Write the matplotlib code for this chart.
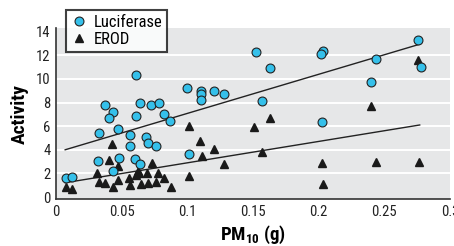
import numpy as np
import matplotlib
matplotlib.use("Agg")
import matplotlib.pyplot as plt

plt.rcParams['font.family'] = ['Roboto Condensed', 'DejaVu Sans']
plt.rcParams['mathtext.fontset'] = 'custom'
plt.rcParams['mathtext.rm'] = 'Roboto Condensed'
plt.rcParams['mathtext.bf'] = 'Roboto Condensed:bold'

# PM10 (g) and luciferase activity
luc_x = [0.0373, 0.0437, 0.0406, 0.047, 0.0607, 0.064, 0.0607, 0.0723, 0.0787, 0.0823,
         0.0868, 0.100, 0.1107, 0.1107, 0.1107, 0.1206, 0.128,
         0.152, 0.163, 0.203, 0.2018, 0.244, 0.2757, 0.278, 0.240, 0.1566, 0.2023,
         0.033, 0.0564, 0.0564, 0.0685, 0.0698, 0.076, 0.0322, 0.048, 0.0437, 0.0604,
         0.064, 0.0074, 0.012, 0.101]
luc_y = [7.8, 7.2, 6.67, 5.8, 10.34, 8.0, 6.9, 7.8, 8.0, 7.0,
         6.4, 9.2, 8.98, 8.7, 8.2, 9.0, 8.7,
         12.3, 10.9, 12.4, 12.1, 11.67, 13.28, 11.0, 9.7, 8.16, 6.36,
         5.45, 5.25, 4.3, 5.1, 4.6, 4.35, 3.05, 3.3, 2.23, 3.2,
         2.8, 1.58, 1.72, 3.64]

# PM10 (g) and EROD activity
erod_x = [0.0074, 0.012, 0.031, 0.033, 0.0373, 0.0406, 0.043, 0.0437, 0.047, 0.0475,
          0.0558, 0.0564, 0.061, 0.0622, 0.063, 0.0645, 0.069, 0.0703, 0.0731, 0.076,
          0.078, 0.0825, 0.0873, 0.101, 0.101, 0.1097, 0.111, 0.1206, 0.128,
          0.151, 0.163, 0.157, 0.2023, 0.2031, 0.240, 0.2755, 0.2437, 0.2767]
erod_y = [0.82, 0.68, 2.06, 1.3, 1.21, 3.14, 4.46, 0.82, 2.63, 1.44,
          1.58, 1.0, 1.86, 2.23, 2.0, 1.1, 2.06, 1.16, 2.9, 1.24,
          2.06, 1.58, 0.87, 6.0, 1.78, 4.75, 3.47, 4.1, 2.8,
          5.9, 6.67, 3.79, 2.85, 1.08, 7.7, 11.58, 3.0, 3.0]

# regression lines (end points)
fit_x = [0.007, 0.277]
luc_fit = [4.0, 12.94]
erod_fit = [1.21, 6.1]

fig = plt.figure(figsize=(4.54, 2.46), dpi=100)
ax = fig.add_axes([0.1233, 0.191, 0.8677, 0.695])
ax.set_facecolor('#e6e7e8')
ax.set_xlim(0, 0.3)
ax.set_ylim(-0.17, 14.31)
ax.set_yticks(range(0, 15, 2))
ax.set_xticks([0, 0.05, 0.1, 0.15, 0.2, 0.25, 0.3])
ax.set_xticklabels(['0', '0.05', '0.1', '0.15', '0.2', '0.25', '0.3'])
for g in range(2, 14, 2):
    ax.axhline(g, color='white', lw=1.4, zorder=0.5)
ax.tick_params(length=0, labelsize=10.5, colors='#222222', pad=4)
for s in ['top', 'right']:
    ax.spines[s].set_visible(False)
for s in ['left', 'bottom']:
    ax.spines[s].set_linewidth(1.2)
    ax.spines[s].set_color('#333333')

ax.plot(fit_x, luc_fit, color='#222222', lw=1.0, zorder=2)
ax.plot(fit_x, erod_fit, color='#222222', lw=1.0, zorder=2)
ax.plot(erod_x, erod_y, ls='none', marker='^', ms=6, color='#1a1a1a', zorder=3,
        label='EROD')
ax.plot(luc_x, luc_y, ls='none', marker='o', ms=6.4, mfc='#35c0ea', mec='#222222',
        mew=0.8, zorder=4, label='Luciferase')

h, l = ax.get_legend_handles_labels()
leg = fig.legend(h[::-1], l[::-1], loc='upper left',
                 bbox_to_anchor=(66 / 454, 1 - 10 / 246), bbox_transform=fig.transFigure,
                 fontsize=12, frameon=True, fancybox=False, borderaxespad=0,
                 handletextpad=0.35, handlelength=1.0, borderpad=0.3, labelspacing=0.1)
leg.get_frame().set_edgecolor('#111111')
leg.get_frame().set_linewidth(1.5)

ax.set_ylabel('Activity', fontsize=14, fontweight='bold', labelpad=5)
ax.set_xlabel(r'PM$_{\mathbf{10}}$ (g)', fontsize=13.5, fontweight='bold', labelpad=4)

fig.savefig('out.png', dpi=100)
